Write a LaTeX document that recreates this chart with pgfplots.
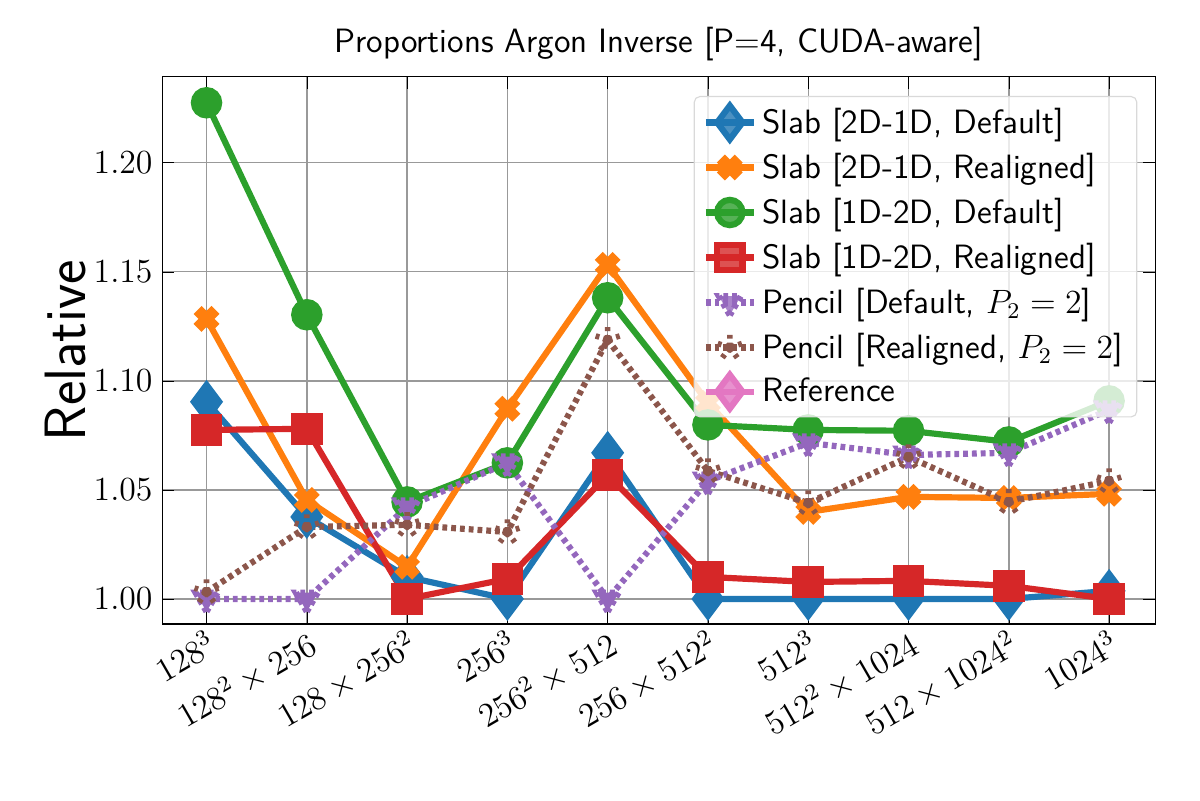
\documentclass[border=0pt]{standalone}
\usepackage{pgfplots}
\pgfplotsset{compat=1.18}
\definecolor{tb}{HTML}{1F77B4}\definecolor{to}{HTML}{FF7F0E}\definecolor{tg}{HTML}{2CA02C}
\definecolor{tr}{HTML}{D62728}\definecolor{tp}{HTML}{9467BD}\definecolor{tbr}{HTML}{8C564B}\definecolor{tpk}{HTML}{E377C2}
\begin{document}
\begin{tikzpicture}
\begin{axis}[scale only axis, width=12.41cm, height=6.84cm,
 xmin=-0.44, xmax=9.46, ymin=0.9885, ymax=1.2394,
 xtick={0,...,9}, xticklabels={$128^3$,$128^2\times256$,$128\times256^2$,$256^3$,$256^2\times512$,$256\times512^2$,$512^3$,$512^2\times1024$,$512\times1024^2$,$1024^3$},
 x tick label style={rotate=30, anchor=north east, font=\large, inner sep=1pt},
 ytick={1.00,1.05,1.10,1.15,1.20},
 yticklabel style={/pgf/number format/fixed, /pgf/number format/fixed zerofill, /pgf/number format/precision=2},
 y tick label style={font=\large},
 grid=major, grid style={gray!80, line width=0.5pt}, tick style={black},
 title={\sffamily\large Proportions Argon Inverse [P=4, CUDA-aware]}, title style={yshift=-4pt},
 ylabel={\sffamily\huge Relative}, ylabel style={yshift=-4pt},
 legend style={at={(0.982,0.965)}, anchor=north east, font=\sffamily\large, fill=white, fill opacity=0.8, text opacity=1, draw=gray!30, rounded corners=2pt, row sep=1.5pt},
 legend cell align=left,
 every axis plot/.append style={line width=2.2pt, mark size=4.5pt, mark options={solid}},
]
\addplot[tb, mark=diamond*, mark size=6pt] coordinates {(0,1.0904)(1,1.0376)(2,1.0101)(3,1.0)(4,1.067)(5,1.0)(6,1.0)(7,1.0)(8,1.0)(9,1.0037)};
\addlegendentry{Slab [2D-1D, Default]}
\addplot[to, mark=x, mark options={line width=4pt}] coordinates {(0,1.1284)(1,1.0454)(2,1.0147)(3,1.0872)(4,1.1532)(5,1.0899)(6,1.0399)(7,1.0468)(8,1.0463)(9,1.0482)};
\addlegendentry{Slab [2D-1D, Realigned]}
\addplot[tg, mark=*] coordinates {(0,1.2275)(1,1.1303)(2,1.0445)(3,1.0624)(4,1.1381)(5,1.0798)(6,1.0775)(7,1.0771)(8,1.072)(9,1.0908)};
\addlegendentry{Slab [1D-2D, Default]}
\addplot[tr, mark=square*] coordinates {(0,1.0775)(1,1.078)(2,1.0)(3,1.0092)(4,1.0569)(5,1.0101)(6,1.0078)(7,1.0083)(8,1.006)(9,1.0)};
\addlegendentry{Slab [1D-2D, Realigned]}
\addplot[tp, dash pattern=on 0.06cm off 0.05cm, mark=triangle*, mark options={rotate=180}] coordinates {(0,1.0)(1,1.0)(2,1.0422)(3,1.0624)(4,1.0)(5,1.0541)(6,1.0716)(7,1.066)(8,1.067)(9,1.0867)};
\addlegendentry{Pencil [Default, $P_2=2$]}
\addplot[tbr, dash pattern=on 0.06cm off 0.05cm, mark=star, mark options={fill=tbr, line width=2pt}] coordinates {(0,1.0032)(1,1.033)(2,1.034)(3,1.0307)(4,1.1188)(5,1.0587)(6,1.044)(7,1.0651)(8,1.0445)(9,1.0541)};
\addlegendentry{Pencil [Realigned, $P_2=2$]}
\addlegendimage{tpk, line width=2.2pt, mark=diamond*, mark size=6pt}
\addlegendentry{Reference}
\end{axis}
\useasboundingbox ([shift={(-2.03cm,-2.2cm)}]current axis.south west) rectangle ([shift={(0.56cm,0.96cm)}]current axis.north east);
\end{tikzpicture}
\end{document}
